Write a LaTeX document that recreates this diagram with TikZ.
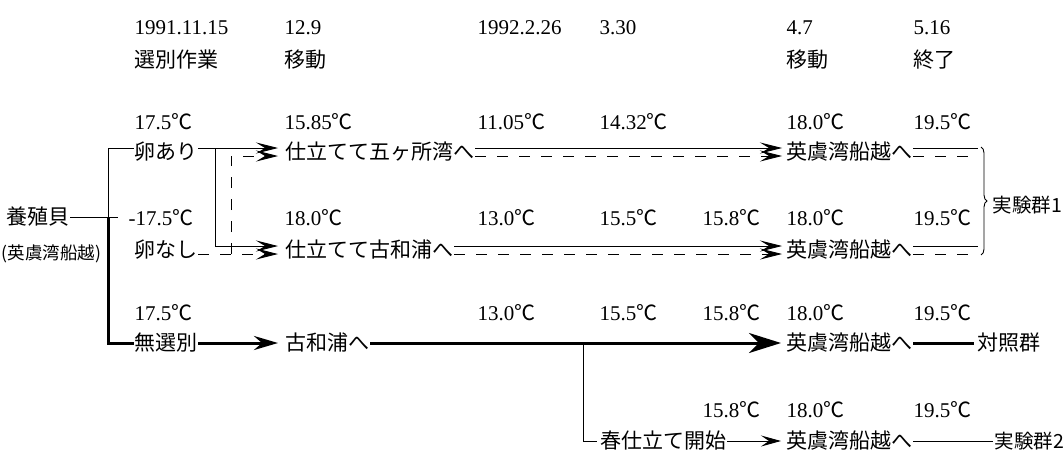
\documentclass[tikz,border=0pt]{standalone}
\usepackage{fontspec}
\setmainfont{Liberation Serif}
\newfontfamily\jp{Noto Sans CJK JP}
\usetikzlibrary{arrows.meta,decorations.pathreplacing}
\newcommand\tdeg{{\jp ℃}}
\begin{document}
\begin{tikzpicture}[x=1pt,y=-1pt,
  lbl/.style={anchor=west,inner sep=0.5pt,font=\fontsize{21pt}{25pt}\selectfont,text height=15pt,text depth=0pt},
  jl/.style={lbl,font=\jp\fontsize{21pt}{25pt}\selectfont},
  jr/.style={lbl,font=\jp\fontsize{19.5pt}{23pt}\selectfont,text height=14pt},
  jsm/.style={lbl,font=\jp\fontsize{17.5pt}{21pt}\selectfont,text height=13pt},
  thinl/.style={line width=0.9pt},
  dsh/.style={line width=0.9pt,dash pattern=on 11pt off 11pt},
  boldl/.style={line width=3pt},
  ar/.style={-{Stealth[length=22pt,width=11pt,inset=9pt]}},
  arT/.style={-{Stealth[length=24pt,width=14pt,inset=8pt]}},
  arB/.style={-{Stealth[length=32pt,width=20pt,inset=10pt]}},
  arS/.style={-{Stealth[length=20pt,width=11pt,inset=8pt]}}]
\useasboundingbox (0,0) rectangle (1064,452);
% headers
\node[lbl] (h1) at (134,27) {1991.11.15};
\node[lbl] (h2) at (284,27) {12.9};
\node[lbl] (h3) at (477,27) {1992.2.26};
\node[lbl] (h4) at (599,27) {3.30};
\node[lbl] (h5) at (786,27) {4.7};
\node[lbl] (h6) at (913,27) {5.16};
\node[jl] (e1) at (134,60) {選別作業};
\node[jl] (e2) at (284,60) {移動};
\node[jl] (e5) at (786,60) {移動};
\node[jl] (e6) at (913,60) {終了};
% temps row 1
\node[lbl] (t11) at (134,122) {17.5\tdeg};
\node[lbl] (t12) at (284,122) {15.85\tdeg};
\node[lbl] (t13) at (477,122) {11.05\tdeg};
\node[lbl] (t14) at (599,122) {14.32\tdeg};
\node[lbl] (t15) at (786,122) {18.0\tdeg};
\node[lbl] (t16) at (913,122) {19.5\tdeg};
% row 1
\node[jl] (a) at (134,152) {卵あり};
\node[jl] (b) at (285,152) {仕立てて五ヶ所湾へ};
\node[jl] (c) at (786,152) {英虞湾船越へ};
% temps row 2
\node[lbl] (t21) at (128,218) {-17.5\tdeg};
\node[lbl] (t22) at (284,218) {18.0\tdeg};
\node[lbl] (t23) at (477,218) {13.0\tdeg};
\node[lbl] (t24) at (599,218) {15.5\tdeg};
\node[lbl] (t25) at (702,218) {15.8\tdeg};
\node[lbl] (t26) at (786,218) {18.0\tdeg};
\node[lbl] (t27) at (913,218) {19.5\tdeg};
% row 2
\node[jl] (d) at (134,250) {卵なし};
\node[jl] (e) at (285,250) {仕立てて古和浦へ};
\node[jl] (f) at (786,250) {英虞湾船越へ};
% left
\node[jl] (y) at (6,217) {養殖貝};
\node[jsm] (yy) at (1,253) {(英虞湾船越)};
\node[jr] (g1) at (992,205) {実験群1};
% temps row 3
\node[lbl] (t31) at (134,313) {17.5\tdeg};
\node[lbl] (t33) at (477,313) {13.0\tdeg};
\node[lbl] (t34) at (599,313) {15.5\tdeg};
\node[lbl] (t35) at (702,313) {15.8\tdeg};
\node[lbl] (t36) at (786,313) {18.0\tdeg};
\node[lbl] (t37) at (913,313) {19.5\tdeg};
% row 3
\node[jl] (m) at (134,343) {無選別};
\node[jl] (k) at (285,343) {古和浦へ};
\node[jl] (n) at (786,343) {英虞湾船越へ};
\node[jl] (ct) at (977,343) {対照群};
% temps row 4
\node[lbl] (t45) at (702,410) {15.8\tdeg};
\node[lbl] (t46) at (786,410) {18.0\tdeg};
\node[lbl] (t47) at (913,410) {19.5\tdeg};
% row 4
\node[jl] (s) at (600,441) {春仕立て開始};
\node[jl] (p) at (786,441) {英虞湾船越へ};
\node[jr] (g2) at (994,441) {実験群2};
% junctions
\coordinate (J) at (108,217);
\coordinate (Je) at (118,217);
\coordinate (bs) at (215,148);
\coordinate (bd) at (231,254);
\coordinate (br) at (583,343);
\coordinate (c1) at (978,148);
\coordinate (c2) at (978,156);
\coordinate (f1) at (978,246);
\coordinate (f2) at (978,254);
\coordinate (bt) at (981,147);
\coordinate (bb) at (981,255);
% connectors
\draw[thinl] (y.east) -- (Je);
\draw[thinl] (J) |- ([yshift=4pt]a.west);
\draw[boldl] (J) |- (m.west);
\draw[thinl,ar] ([yshift=4pt]a.east) -- ([xshift=-7pt,yshift=4pt]b.west);
\draw[thinl,ar] (bs) |- ([xshift=-7pt,yshift=4pt]e.west);
\draw[dsh,ar] ([yshift=-4pt]d.east) -- ([xshift=-7pt,yshift=-4pt]e.west);
\draw[dsh,ar] (bd) |- ([xshift=-7pt,yshift=-4pt]b.west);
\draw[thinl,ar] ([yshift=4pt]b.east) -- ([xshift=-4pt,yshift=4pt]c.west);
\draw[dsh,ar] ([yshift=-4pt]b.east) -- ([xshift=-4pt,yshift=-4pt]c.west);
\draw[thinl,ar] ([yshift=4pt]e.east) -- ([xshift=-4pt,yshift=4pt]f.west);
\draw[dsh,ar] ([yshift=-4pt]e.east) -- ([xshift=-4pt,yshift=-4pt]f.west);
\draw[thinl] ([yshift=4pt]c.east) -- (c1);
\draw[dsh] ([yshift=-4pt]c.east) -- (c2);
\draw[thinl] ([yshift=4pt]f.east) -- (f1);
\draw[dsh] ([yshift=-4pt]f.east) -- (f2);
\draw[thinl,decorate,decoration={brace,amplitude=6pt}] (bt) -- (bb);
\draw[boldl,arT] (m.east) -- ([xshift=-7pt]k.west);
\draw[boldl,arB] (k.east) -- ([xshift=-5pt]n.west);
\draw[boldl] (n.east) -- ([xshift=-3pt]ct.west);
\draw[thinl] (br) |- ([xshift=-3pt]s.west);
\draw[thinl,arS] (s.east) -- ([xshift=-5pt]p.west);
\draw[thinl] (p.east) -- ([xshift=-1pt]g2.west);
\end{tikzpicture}
\end{document}
